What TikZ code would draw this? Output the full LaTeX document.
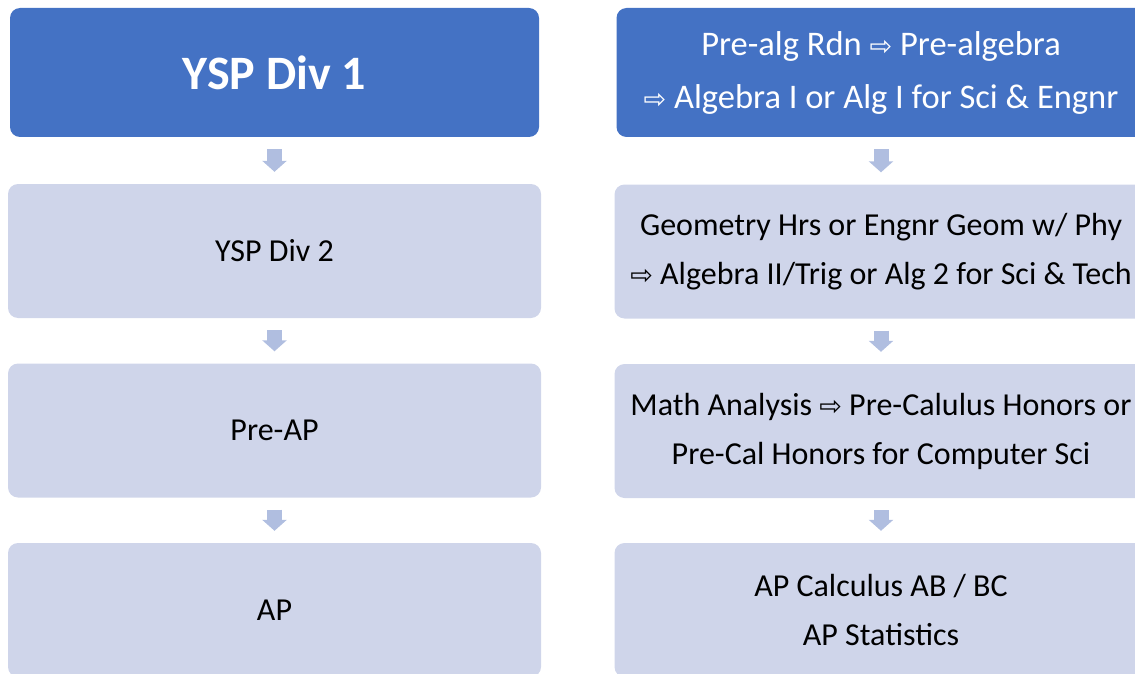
\documentclass[tikz,border=0pt]{standalone}
\usepackage{fontspec}
\setmainfont{Carlito}
\newfontfamily\symfont{DejaVu Sans}
\usetikzlibrary{arrows.meta,positioning}
\usepackage{xcolor}
\definecolor{headblue}{HTML}{4472C4}
\definecolor{levelfill}{HTML}{CFD5EA}
\definecolor{arrowblue}{HTML}{B0BEE0}
\newcommand{\thento}{{\symfont\fontsize{27}{27}\selectfont ⇨}}

\begin{document}
\begin{tikzpicture}[x=1pt,y=1pt,
  head/.style={rectangle,rounded corners=10pt,fill=headblue,text=white,
    minimum width=529pt,minimum height=129pt,inner sep=0pt,align=center},
  level/.style={rectangle,rounded corners=10pt,fill=levelfill,
    minimum width=533pt,minimum height=134pt,inner sep=0pt,align=center},
  body/.style={font=\fontsize{32}{49}\selectfont},
  arr/.style={-{Triangle[width=24pt,length=11pt]},line width=15pt,
    draw=arrowblue,shorten <=12pt,shorten >=12pt}
]
\useasboundingbox (0,0) rectangle (1135,-674);
% left column
\node[head,font=\fontsize{48}{50}\bfseries] (d1) at (274.5,-72.5) {YSP Div 1};
\node[level,body] (d2) at (274.5,-251) {YSP Div 2};
\node[level,body] (d3) at (274.5,-430.5) {Pre-AP};
\node[level,body] (d4) at (274.5,-610) {AP};
% right column
\node[head,font=\fontsize{34.5}{53}\selectfont] (c1) at (881,-72.5)
  {Pre-alg Rdn \thento{} Pre-algebra\\\thento{} Algebra I or Alg I for Sci \& Engnr};
\node[level,body] (c2) at (881,-251.5)
  {Geometry Hrs or Engnr Geom w/ Phy\\\thento{} Algebra II/Trig or Alg 2 for Sci \& Tech};
\node[level,body] (c3) at (881,-431)
  {Math Analysis \thento{} Pre-Calulus Honors or\\Pre-Cal Honors for Computer Sci};
\node[level,body] (c4) at (881,-610) {AP Calculus AB / BC\\AP Statistics};
\draw[arr] (d1.south) -- (d2.north);
\draw[arr] (d2.south) -- (d3.north);
\draw[arr] (d3.south) -- (d4.north);
\draw[arr] (c1.south) -- (c2.north);
\draw[arr] (c2.south) -- (c3.north);
\draw[arr] (c3.south) -- (c4.north);
\end{tikzpicture}
\end{document}
